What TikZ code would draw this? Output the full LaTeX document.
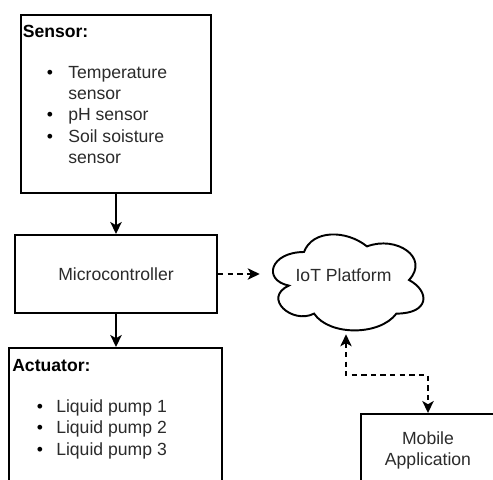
\documentclass[tikz,border=0pt]{standalone}
\usepackage{fontspec}
\setmainfont{Liberation Sans}
\usetikzlibrary{arrows.meta,calc}
\definecolor{txt}{HTML}{2B2B2B}
\begin{document}
\begin{tikzpicture}[x=0.75pt,y=-0.75pt,
  box/.style={draw=black,line width=1.45pt,fill=white,inner sep=0pt},
  tip/.style={},
  arr/.style={line width=1.45pt,-{Stealth[length=9pt,width=8.5pt,inset=2.4pt]}},
  darr/.style={line width=1.45pt,dash pattern=on 4pt off 3.2pt,
     {Stealth[length=9pt,width=8.5pt,inset=2.4pt]}-{Stealth[length=9pt,width=8.5pt,inset=2.4pt]}},
  darr1/.style={line width=1.45pt,dash pattern=on 4pt off 3.2pt,
     -{Stealth[length=9pt,width=8.5pt,inset=2.4pt]}},
  txtn/.style={inner sep=0pt,text=txt,font=\fontsize{13.2}{16}\selectfont},
  head/.style={inner sep=0pt,text=black,font=\fontsize{13.2}{16}\selectfont\bfseries,anchor=base west},
  bul/.style={inner sep=0pt,text=black,font=\fontsize{13.2}{16}\selectfont,anchor=base},
  item/.style={txtn,anchor=base west}]
\useasboundingbox (0,0) rectangle (493,479);
\clip (0,0) rectangle (493,479);
\fill[white] (0,0) rectangle (493,479);

% boxes
\node[box,minimum width=190*0.75pt,minimum height=178*0.75pt] (sensor) at (116,104) {};
\node[box,minimum width=202*0.75pt,minimum height=78*0.75pt] (micro) at (116,274) {};
\node[box,minimum width=213*0.75pt,minimum height=160*0.75pt] (act) at (115.5,428) {};
\node[box,minimum width=134*0.75pt,minimum height=76*0.75pt] (mobile) at (428,452) {};
\node[inner sep=0pt,minimum width=172*0.75pt,minimum height=112*0.75pt] (cloud) at (346,278) {};

% cloud outline
\draw[line width=1.45pt,fill=white] (304,252)
  .. controls (270.4,252) and (262,280) .. (288.88,285.6)
  .. controls (262,297.92) and (292.24,324.8) .. (314.08,313.6)
  .. controls (329.2,336) and (379.6,336) .. (396.4,313.6)
  .. controls (430,313.6) and (430,291.2) .. (409,280)
  .. controls (430,257.6) and (396.4,235.2) .. (367,246.4)
  .. controls (346,229.6) and (312.4,229.6) .. (304,252) -- cycle;

% sensor text
\node[head] (sh) at (22.5,37.3) {Sensor:};
\node[bul] (sb1) at (50,78.3) {•};
\node[item] (s1) at (68,78.3) {Temperature};
\node[item] (s1b) at (68,99.6) {sensor};
\node[bul] (sb2) at (50,120.9) {•};
\node[item] (s2) at (68,120.9) {pH sensor};
\node[bul] (sb3) at (50,142.2) {•};
\node[item] (s3) at (68,142.2) {Soil soisture};
\node[item] (s3b) at (68,163.5) {sensor};

% micro text
\node[txtn,anchor=base] (mt) at (116,280) {Microcontroller};

% actuator text
\node[head] (ah) at (12,371.7) {Actuator:};
\node[bul] (ab1) at (40,412.3) {•};
\node[item] (a1) at (56,412.3) {Liquid pump 1};
\node[bul] (ab2) at (40,433.8) {•};
\node[item] (a2) at (56,433.8) {Liquid pump 2};
\node[bul] (ab3) at (40,455.3) {•};
\node[item] (a3) at (56,455.3) {Liquid pump 3};

% cloud text
\node[txtn,anchor=base] (ct) at (343.5,281.5) {IoT Platform};

% mobile text
\node[txtn,anchor=base] (mo1) at (428,444) {Mobile};
\node[txtn,anchor=base] (mo2) at (428,465) {Application};

% connectors
\draw[arr] (sensor.south) -- (micro.north);
\draw[arr] (micro.south) -- (micro.south |- act.north);
\draw[darr1] (micro.east) -- (micro.east -| cloud.west);
\draw[darr] (cloud.south) -- ++(0,41) -| (mobile.north);
\end{tikzpicture}
\end{document}
